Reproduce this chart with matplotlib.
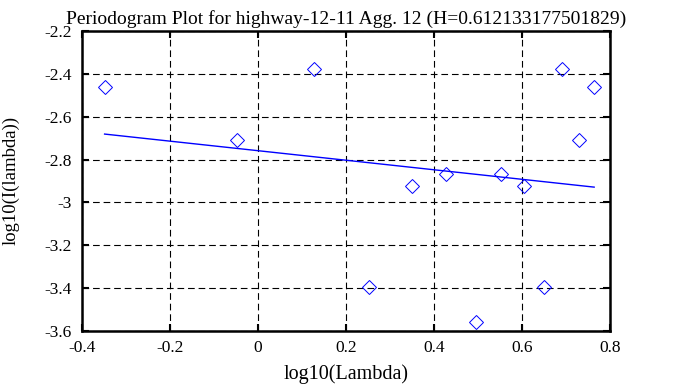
import numpy as np
import matplotlib
matplotlib.use("Agg")
import matplotlib.pyplot as plt

#******************
#   Data
#******************
log_lambda = [-0.348, -0.048, 0.127, 0.252, 0.350, 0.428, 0.496,
              0.553, 0.604, 0.650, 0.692, 0.730, 0.764]
log_i = [-2.462, -2.707, -2.377, -3.397, -2.926, -2.868, -3.560,
         -2.868, -2.926, -3.397, -2.377, -2.707, -2.462]

fit_x = [-0.348, 0.764]
fit_y = [-2.681, -2.929]

title = "Periodogram Plot for highway-12-11 Agg. 12 (H=0.612133177501829)"
xticks = [-0.4, -0.2, 0, 0.2, 0.4, 0.6, 0.8]
yticks = [-2.2, -2.4, -2.6, -2.8, -3, -3.2, -3.4, -3.6]

#*******************
#   Aesthetics
#*******************
plt.rcParams["font.family"] = ["Liberation Serif", "DejaVu Serif"]
plt.rcParams["font.size"] = 12.5

fig = plt.figure(figsize=(6.73, 3.87), dpi=100)
ax = fig.add_axes([0.1214, 0.1455, 0.785, 0.774])

#*******************
#   Plot
#*******************
ax.plot(log_lambda, log_i, linestyle="none", marker="D", markersize=7.3,
        markerfacecolor="none", markeredgecolor="#0000ff", markeredgewidth=0.7)
ax.plot(fit_x, fit_y, color="#0000ff", lw=1.0)

ax.set_xlim(-0.4, 0.8)
ax.set_ylim(-3.6, -2.2)
ax.set_xticks(xticks)
ax.set_xticklabels([("%g" % t) for t in xticks])
ax.set_yticks(yticks)
ax.set_yticklabels([("%g" % t) for t in yticks])

ax.grid(True, color="black", linestyle=(0, (6, 3.5)), linewidth=0.8)
for s in ax.spines.values():
    s.set_linewidth(1.8)
ax.tick_params(direction="in", length=5, width=1.5, top=True, right=True, pad=7)

#******************
#   Titles and labels
#******************
ax.set_title(title, fontsize=14, pad=5)
ax.set_xlabel("log10(Lambda)", fontsize=14.5, labelpad=6)
ax.set_ylabel("log10(I(lambda))", fontsize=13.5)
ax.yaxis.set_label_coords(-0.117, 0.5)

fig.savefig("out.png", dpi=100)
